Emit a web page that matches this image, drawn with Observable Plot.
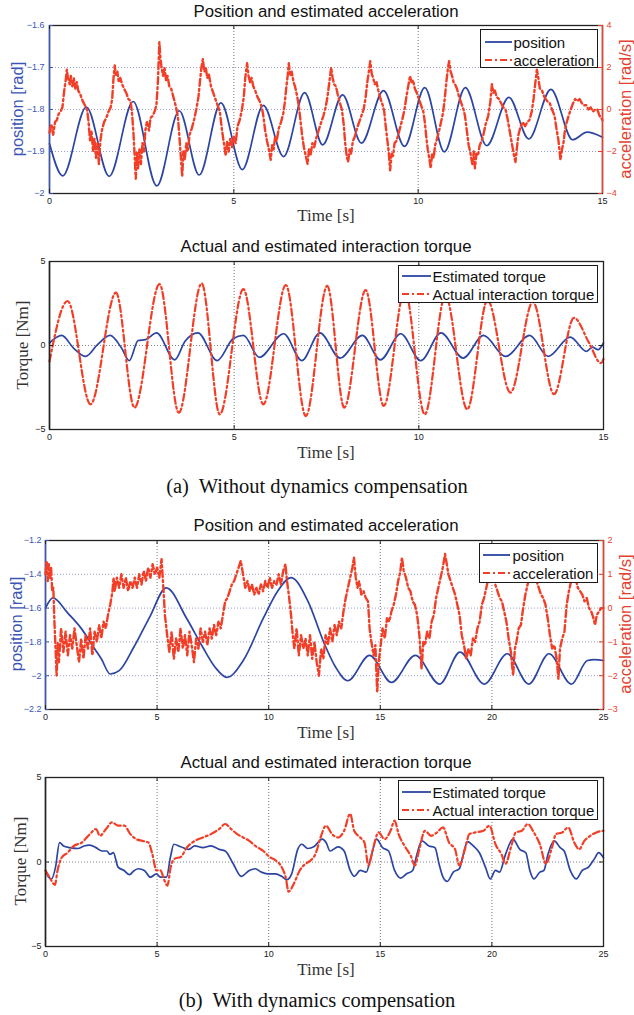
<!DOCTYPE html>
<html><head><meta charset="utf-8">
<script src="https://cdn.jsdelivr.net/npm/d3@7"></script>
<script src="https://cdn.jsdelivr.net/npm/@observablehq/plot@0.6"></script>
<style>
body{margin:0;background:#fff;}
#root{position:relative;width:634px;height:1015px;overflow:hidden;background:#fff;}
</style>
</head><body><div id="root"></div>
<script>
// ---------- DATA ----------
const titles = ["Position and estimated acceleration", "Actual and estimated interaction torque"];
const captions = ["(a)  Without dynamics compensation", "(b)  With dynamics compensation"];
const xLabel = "Time [s]";
const posLabel = "position [rad]", accLabel = "acceleration [rad/s]", torqueLabel = "Torque [Nm]";
const legendPA = ["position", "acceleration"];
const legendT = ["Estimated torque", "Actual interaction torque"];

const xTicks15 = [0, 5, 10, 15];
const xTicks25 = [0, 5, 10, 15, 20, 25];
const posTicks1 = [-2, -1.9, -1.8, -1.7, -1.6];
const accTicks1 = [-4, -2, 0, 2, 4];
const posTicks3 = [-2.2, -2, -1.8, -1.6, -1.4, -1.2];
const accTicks3 = [-3, -2, -1, 0, 1, 2];
const torqueTicks = [-5, 0, 5];

// panel (a) top: position [t, rad]
const p1Pos = [[0,-1.881],[0.36,-1.958],[1.0,-1.794],[1.62,-1.959],[2.27,-1.781],[2.91,-1.982],[3.52,-1.803],[4.06,-1.956],[4.65,-1.784],[5.23,-1.943],[5.8,-1.79],[6.35,-1.912],[6.92,-1.76],[7.41,-1.884],[7.95,-1.765],[8.46,-1.88],[9.06,-1.755],[9.63,-1.888],[10.18,-1.748],[10.71,-1.901],[11.28,-1.748],[11.86,-1.886],[12.46,-1.771],[13.0,-1.87],[13.6,-1.752],[14.19,-1.872],[14.58,-1.854],[15,-1.866]];
// panel (a) top: acceleration [t, rad/s^2]
const p1Acc = [[0,-1.1],[0.05,-0.7],[0.1,-1.2],[0.15,-0.6],[0.2,-0.5],[0.25,-0.2],[0.3,-0.1],[0.35,0.1],[0.4,0.9],[0.44,1.4],[0.47,1.9],[0.5,1.5],[0.55,1.2],[0.58,1.6],[0.62,1.1],[0.66,1.5],[0.7,1.0],[0.74,1.3],[0.78,0.9],[0.84,0.7],[0.9,0.4],[0.96,0.2],[1.02,0.0],[1.06,-0.6],[1.1,-1.5],[1.14,-1.0],[1.18,-2.0],[1.22,-1.4],[1.26,-2.3],[1.3,-1.6],[1.34,-2.6],[1.38,-1.5],[1.42,-1.0],[1.48,-0.6],[1.54,-0.4],[1.6,-0.1],[1.66,0.1],[1.7,0.5],[1.74,1.6],[1.77,2.1],[1.8,1.6],[1.84,1.8],[1.88,1.3],[1.92,1.5],[1.97,1.2],[2.02,1.0],[2.08,0.8],[2.14,0.5],[2.2,0.4],[2.24,-0.2],[2.28,-1.2],[2.31,-2.2],[2.34,-3.3],[2.37,-2.0],[2.4,-2.8],[2.44,-1.9],[2.48,-2.6],[2.52,-1.6],[2.56,-2.0],[2.6,-1.0],[2.64,-0.6],[2.7,-1.0],[2.74,-0.4],[2.8,-0.3],[2.85,-0.1],[2.9,0.2],[2.94,1.3],[2.98,3.2],[3.01,2.4],[3.04,2.0],[3.08,1.6],[3.12,2.0],[3.16,1.4],[3.2,1.6],[3.25,1.1],[3.3,1.0],[3.36,0.6],[3.42,0.2],[3.48,-0.3],[3.52,-1.2],[3.56,-2.2],[3.6,-3.2],[3.63,-2.0],[3.67,-2.4],[3.71,-1.6],[3.75,-2.0],[3.8,-1.2],[3.86,-0.9],[3.92,-0.5],[3.98,0.0],[4.04,0.6],[4.08,1.3],[4.12,2.0],[4.16,2.4],[4.2,1.8],[4.24,2.0],[4.28,1.5],[4.32,1.7],[4.38,1.1],[4.44,0.8],[4.5,0.5],[4.56,0.2],[4.62,-0.1],[4.68,-1.0],[4.73,-1.6],[4.78,-2.2],[4.82,-1.5],[4.86,-2.0],[4.9,-1.4],[4.95,-1.8],[5.0,-1.3],[5.05,-1.6],[5.1,-0.8],[5.16,-0.5],[5.22,0.0],[5.27,0.6],[5.31,1.5],[5.36,2.2],[5.4,1.6],[5.44,1.3],[5.48,1.5],[5.53,1.1],[5.58,0.9],[5.64,0.6],[5.7,0.4],[5.76,0.1],[5.8,-0.3],[5.85,-1.0],[5.9,-1.5],[5.95,-1.9],[6.0,-2.4],[6.04,-1.7],[6.08,-1.9],[6.12,-1.3],[6.16,-1.5],[6.22,-0.9],[6.28,-0.6],[6.34,-0.2],[6.38,0.3],[6.42,1.0],[6.46,1.6],[6.49,2.2],[6.53,1.6],[6.57,1.8],[6.62,1.3],[6.66,1.1],[6.71,0.7],[6.76,0.2],[6.8,-0.4],[6.85,-1.2],[6.9,-1.8],[6.95,-2.2],[7.0,-2.6],[7.04,-1.9],[7.08,-2.2],[7.13,-1.6],[7.18,-1.8],[7.23,-1.4],[7.3,-1.0],[7.37,-0.6],[7.43,-0.3],[7.49,0.1],[7.54,0.6],[7.59,1.3],[7.64,2.0],[7.68,1.5],[7.72,1.2],[7.77,1.1],[7.82,0.7],[7.88,0.3],[7.93,0.0],[7.98,-0.7],[8.02,-1.6],[8.06,-2.2],[8.1,-2.5],[8.14,-1.9],[8.18,-2.1],[8.23,-1.5],[8.28,-1.3],[8.34,-0.9],[8.4,-0.6],[8.46,-0.3],[8.52,0.0],[8.57,0.5],[8.62,1.3],[8.67,1.9],[8.7,2.3],[8.74,1.7],[8.78,1.5],[8.82,1.2],[8.87,1.3],[8.92,0.9],[8.98,0.5],[9.04,0.2],[9.08,-0.1],[9.12,-0.8],[9.16,-1.4],[9.2,-2.0],[9.24,-2.9],[9.28,-2.1],[9.32,-2.2],[9.36,-1.6],[9.41,-1.5],[9.46,-1.2],[9.52,-0.8],[9.58,-0.4],[9.63,0.0],[9.68,0.6],[9.73,1.1],[9.78,1.6],[9.82,1.3],[9.86,1.4],[9.91,1.0],[9.96,0.8],[10.02,0.5],[10.08,0.2],[10.14,-0.1],[10.18,-0.6],[10.22,-1.3],[10.26,-1.9],[10.3,-2.3],[10.34,-2.8],[10.38,-2.1],[10.42,-2.3],[10.46,-1.7],[10.51,-1.4],[10.57,-1.0],[10.62,-0.6],[10.67,-0.2],[10.72,0.5],[10.77,1.4],[10.81,2.0],[10.84,2.3],[10.88,1.8],[10.92,1.6],[10.96,1.3],[11.0,1.2],[11.05,1.0],[11.11,0.6],[11.17,0.3],[11.23,0.0],[11.27,-0.3],[11.32,-1.0],[11.37,-1.7],[11.42,-2.1],[11.47,-2.6],[11.51,-2.0],[11.54,-2.8],[11.58,-2.1],[11.62,-2.2],[11.67,-1.7],[11.72,-1.5],[11.77,-1.2],[11.83,-0.7],[11.9,-0.3],[11.96,0.4],[12.0,1.2],[12.04,0.8],[12.08,0.9],[12.13,0.6],[12.19,0.5],[12.25,0.3],[12.31,0.1],[12.37,0.0],[12.42,-0.4],[12.48,-1.0],[12.54,-1.6],[12.6,-2.2],[12.64,-2.5],[12.68,-1.8],[12.72,-1.2],[12.78,-0.8],[12.84,-0.6],[12.9,-0.8],[12.96,-0.6],[13.02,-0.5],[13.08,-0.1],[13.13,0.5],[13.18,1.3],[13.22,1.9],[13.26,1.5],[13.3,1.0],[13.36,0.9],[13.42,0.6],[13.5,0.4],[13.57,0.3],[13.63,0.0],[13.7,-0.3],[13.75,-0.9],[13.8,-1.4],[13.86,-2.4],[13.9,-1.9],[13.94,-1.6],[13.98,-1.0],[14.03,-0.6],[14.08,-0.3],[14.14,0.0],[14.2,0.3],[14.26,0.5],[14.32,0.4],[14.38,0.5],[14.44,0.3],[14.5,0.2],[14.56,0.2],[14.62,0.0],[14.68,0.1],[14.74,-0.1],[14.8,0.0],[14.86,0.0],[14.92,-0.3],[15,-0.5]];

// panel (a) bottom: torque [t, Nm]
const p2Est = [[0,0.15],[0.33,0.6],[0.65,-0.15],[0.98,-0.65],[1.3,0.05],[1.64,0.6],[1.95,-0.15],[2.16,-0.9],[2.4,0.3],[2.6,0.35],[2.9,0.75],[3.39,-0.85],[3.67,0.25],[4.02,0.75],[4.54,-0.9],[4.97,0.4],[5.25,0.6],[5.68,-0.7],[6.34,0.7],[6.83,-0.9],[7.32,0.75],[7.87,-0.75],[8.47,0.6],[8.96,-0.85],[9.51,0.7],[10.05,-0.9],[10.6,0.75],[11.2,-0.75],[11.75,0.6],[12.35,-0.65],[13.0,0.6],[13.5,-0.65],[14.1,0.5],[14.54,-0.35],[14.7,-0.1],[14.85,-0.25],[15,0.15]];
const p2Act = [[0,-0.95],[0.49,2.65],[1.11,-3.5],[1.8,3.15],[2.3,-3.7],[2.98,3.65],[3.5,-4.0],[4.12,3.7],[4.61,-4.1],[5.25,3.35],[5.79,-3.5],[6.4,3.6],[6.94,-4.2],[7.52,3.55],[7.98,-3.7],[8.56,3.3],[9.05,-3.6],[9.62,3.3],[10.16,-4.1],[10.72,3.0],[11.31,-3.8],[11.86,2.7],[12.48,-2.8],[13.09,2.6],[13.66,-2.9],[14.2,1.65],[14.6,0.2],[14.93,-1.05],[15,-0.8]];

// panel (b) top: position
const p3Pos = [[0,-1.6],[0.33,-1.54],[1.0,-1.63],[1.6,-1.72],[2.2,-1.84],[2.5,-1.9],[2.9,-1.99],[3.3,-1.97],[3.96,-1.83],[4.68,-1.65],[5.41,-1.48],[6.32,-1.66],[7.04,-1.83],[7.6,-1.95],[8.13,-2.01],[8.86,-1.91],[9.76,-1.66],[10.4,-1.5],[11.0,-1.42],[11.76,-1.56],[12.49,-1.81],[13.0,-1.95],[13.54,-2.03],[14.52,-1.88],[15.5,-2.04],[16.57,-1.88],[17.66,-2.05],[18.57,-1.86],[19.66,-2.05],[20.69,-1.87],[21.65,-2.05],[22.56,-1.87],[23.56,-2.05],[24.28,-1.91],[24.6,-1.905],[25,-1.91]];
// panel (b) top: acceleration
const p3Acc = [[0,1.0],[0.05,1.4],[0.1,0.8],[0.15,1.3],[0.2,0.9],[0.25,1.2],[0.3,0.5],[0.35,0.6],[0.4,-0.4],[0.45,-1.2],[0.5,-2.0],[0.55,-1.0],[0.6,-1.6],[0.7,-0.6],[0.8,-1.3],[0.9,-0.7],[1.0,-1.4],[1.1,-0.8],[1.2,-1.2],[1.3,-0.6],[1.4,-1.1],[1.5,-1.6],[1.6,-0.9],[1.7,-1.5],[1.8,-0.8],[1.9,-1.2],[2.0,-0.6],[2.1,-1.4],[2.2,-0.7],[2.3,-1.0],[2.4,-0.5],[2.5,-0.9],[2.6,-0.4],[2.7,-0.6],[2.8,-0.2],[2.9,0.1],[3.0,0.5],[3.05,0.9],[3.1,0.5],[3.2,0.9],[3.3,0.6],[3.4,1.0],[3.5,0.6],[3.6,0.9],[3.7,0.5],[3.8,0.8],[3.9,0.6],[4.0,0.9],[4.1,0.6],[4.2,1.0],[4.3,0.7],[4.4,1.1],[4.5,0.8],[4.6,1.2],[4.7,0.9],[4.8,1.3],[4.9,1.0],[5.0,1.2],[5.1,0.9],[5.2,1.45],[5.28,0.6],[5.35,-0.2],[5.45,-0.8],[5.55,-1.3],[5.65,-0.7],[5.75,-1.5],[5.85,-0.9],[5.95,-1.3],[6.05,-0.6],[6.15,-1.2],[6.25,-0.8],[6.35,-1.4],[6.45,-0.7],[6.55,-1.1],[6.65,-1.6],[6.75,-0.9],[6.85,-1.2],[6.95,-0.6],[7.05,-1.0],[7.15,-0.7],[7.25,-1.1],[7.35,-0.6],[7.45,-0.9],[7.55,-0.5],[7.65,-0.8],[7.75,-0.4],[7.85,-0.6],[7.95,-0.2],[8.05,0.2],[8.15,0.3],[8.25,0.5],[8.35,0.7],[8.45,0.8],[8.55,1.0],[8.65,1.2],[8.75,1.4],[8.85,1.0],[8.95,0.6],[9.05,0.8],[9.15,0.5],[9.25,0.7],[9.35,0.4],[9.45,0.6],[9.55,0.4],[9.65,0.7],[9.75,0.5],[9.85,0.8],[9.95,0.6],[10.05,0.9],[10.15,0.6],[10.25,0.8],[10.35,0.7],[10.45,1.0],[10.55,0.7],[10.65,1.1],[10.75,1.3],[10.82,0.8],[10.9,0.4],[11.0,-0.2],[11.08,-0.8],[11.15,-1.2],[11.25,-0.6],[11.35,-1.4],[11.45,-0.8],[11.55,-1.2],[11.65,-0.9],[11.75,-1.4],[11.85,-0.8],[11.95,-1.5],[12.05,-1.0],[12.15,-1.6],[12.25,-2.0],[12.35,-1.2],[12.45,-1.5],[12.55,-0.8],[12.65,-1.1],[12.75,-0.6],[12.85,-1.0],[12.95,-0.5],[13.05,-0.8],[13.15,-0.4],[13.25,-0.6],[13.35,-0.1],[13.45,0.3],[13.55,0.6],[13.65,0.9],[13.75,1.2],[13.82,1.5],[13.9,0.9],[13.98,0.6],[14.05,0.8],[14.15,0.4],[14.25,0.5],[14.35,0.3],[14.45,0.2],[14.52,-0.6],[14.6,-1.0],[14.7,-1.4],[14.78,-1.1],[14.86,-2.5],[14.93,-1.6],[15.0,-1.2],[15.1,-0.6],[15.2,-0.9],[15.3,-0.3],[15.4,-0.4],[15.5,-0.1],[15.6,0.1],[15.7,0.4],[15.8,0.8],[15.9,1.1],[15.97,1.5],[16.05,1.1],[16.15,0.9],[16.25,0.6],[16.35,0.5],[16.45,0.2],[16.55,0.1],[16.65,-0.2],[16.75,-0.8],[16.85,-1.8],[16.93,-1.0],[17.0,-1.1],[17.1,-0.7],[17.2,-0.9],[17.3,-0.4],[17.4,-0.2],[17.5,0.3],[17.6,0.6],[17.7,0.9],[17.8,1.2],[17.9,1.6],[17.98,1.3],[18.05,1.0],[18.15,0.8],[18.25,0.6],[18.35,0.4],[18.45,0.1],[18.55,-0.2],[18.65,-0.8],[18.75,-1.1],[18.85,-1.5],[18.95,-1.2],[19.05,-1.4],[19.15,-0.9],[19.25,-1.0],[19.35,-0.6],[19.45,-0.4],[19.55,0.1],[19.65,0.3],[19.75,0.6],[19.85,0.9],[19.95,1.2],[20.05,1.0],[20.15,0.7],[20.25,0.5],[20.35,0.3],[20.45,0.2],[20.55,-0.1],[20.65,-0.4],[20.75,-0.9],[20.85,-1.3],[20.95,-2.0],[21.03,-1.2],[21.1,-1.0],[21.2,-0.6],[21.3,-0.5],[21.4,0.0],[21.5,0.4],[21.6,0.7],[21.7,1.0],[21.8,1.3],[21.9,1.1],[22.0,0.8],[22.1,0.6],[22.2,0.4],[22.3,0.3],[22.4,0.1],[22.5,-0.3],[22.6,-0.8],[22.7,-1.2],[22.8,-1.1],[22.9,-1.5],[22.98,-2.1],[23.05,-1.2],[23.15,-0.9],[23.25,-0.7],[23.35,0.1],[23.45,0.5],[23.55,0.8],[23.65,1.2],[23.75,0.9],[23.85,0.6],[23.95,0.5],[24.05,0.4],[24.15,0.2],[24.25,0.3],[24.35,0.0],[24.45,-0.1],[24.55,-0.3],[24.62,-0.5],[24.7,-0.2],[24.8,-0.1],[24.9,0.0],[25,0.0]];

// panel (b) bottom: torque
const p4Est = [[0,-0.5],[0.14,-0.9],[0.27,-1.0],[0.45,-0.3],[0.63,1.15],[0.81,0.95],[1.08,0.85],[1.45,0.8],[1.72,0.95],[1.99,1.0],[2.26,0.85],[2.53,0.65],[2.75,0.65],[2.89,0.45],[3.04,0.55],[3.25,-0.3],[3.52,-0.5],[3.76,-0.75],[3.98,-0.5],[4.16,-0.4],[4.43,-0.5],[4.7,-0.9],[4.97,-0.7],[5.15,-0.9],[5.42,-0.9],[5.6,0.3],[5.75,1.05],[6.06,0.9],[6.42,0.75],[6.69,0.95],[7.05,0.85],[7.41,0.95],[7.78,0.75],[8.05,0.65],[8.41,-0.1],[8.77,-0.85],[9.13,-0.5],[9.4,-0.4],[9.67,-0.6],[9.95,-0.7],[10.31,-0.7],[10.58,-0.85],[10.81,-1.05],[11.03,-0.7],[11.3,0.75],[11.48,1.05],[11.75,0.8],[12.02,0.9],[12.4,1.35],[12.57,1.15],[12.75,0.65],[13.11,0.9],[13.38,0.65],[13.65,-0.5],[13.83,-0.85],[14.1,-0.5],[14.37,-0.6],[14.55,0.1],[14.83,1.35],[15.1,0.85],[15.37,0.65],[15.64,-0.5],[15.91,-0.95],[16.18,-0.7],[16.45,-0.5],[16.64,0.45],[16.86,1.25],[17.18,0.95],[17.45,0.85],[17.63,-0.1],[17.81,-0.9],[18.0,-1.15],[18.27,-0.6],[18.54,-0.4],[18.72,0.45],[18.9,1.2],[19.17,0.95],[19.44,0.55],[19.71,-0.3],[19.93,-1.0],[20.16,-0.5],[20.34,-0.6],[20.61,0.45],[20.94,1.35],[21.25,0.75],[21.52,0.55],[21.7,-0.5],[21.88,-1.0],[22.15,-0.6],[22.33,-0.5],[22.51,0.45],[22.79,1.25],[23.06,0.85],[23.24,0.65],[23.51,-0.5],[23.78,-1.0],[24.05,-0.5],[24.33,-0.3],[24.6,0.2],[24.78,0.55],[25,0.25]];
const p4Act = [[0,-0.5],[0.18,-0.9],[0.42,-1.35],[0.54,-0.5],[0.72,0.25],[0.99,0.55],[1.27,0.95],[1.63,1.15],[1.99,1.65],[2.26,1.95],[2.44,1.55],[2.71,1.95],[2.98,2.35],[3.25,2.15],[3.53,2.15],[3.8,1.65],[4.07,1.35],[4.34,1.25],[4.61,1.15],[4.79,0.45],[4.97,-0.5],[5.15,-0.5],[5.33,-1.1],[5.46,-1.4],[5.61,-0.3],[5.79,0.2],[6.06,0.3],[6.33,0.85],[6.69,1.25],[7.05,1.45],[7.41,1.65],[7.78,1.95],[8.05,2.25],[8.32,1.95],[8.59,1.65],[8.86,1.45],[9.13,1.25],[9.4,0.95],[9.76,0.65],[10.04,0.3],[10.31,0.1],[10.58,-0.3],[10.76,-0.9],[10.89,-1.75],[11.12,-1.3],[11.39,-0.5],[11.66,-0.1],[11.84,0.05],[12.12,0.55],[12.3,1.35],[12.57,2.15],[12.84,1.65],[13.11,1.45],[13.38,1.85],[13.65,2.85],[13.83,1.85],[14.1,1.45],[14.29,1.15],[14.47,-0.2],[14.65,0.65],[14.92,1.75],[15.19,1.35],[15.46,1.85],[15.64,2.45],[15.82,1.65],[16.09,0.95],[16.37,0.35],[16.55,-0.2],[16.73,0.65],[17.0,1.85],[17.27,1.55],[17.54,1.75],[17.81,2.05],[18.08,1.15],[18.35,0.75],[18.54,-0.2],[18.81,0.85],[18.99,1.65],[19.26,1.75],[19.62,1.85],[19.89,2.15],[20.16,1.05],[20.43,0.45],[20.61,-0.1],[20.89,1.05],[21.07,1.75],[21.34,1.85],[21.61,2.25],[21.88,1.75],[22.15,1.05],[22.42,-0.1],[22.69,0.85],[22.87,1.65],[23.15,1.75],[23.42,2.05],[23.69,1.15],[23.91,0.75],[24.14,1.25],[24.41,1.55],[24.68,1.75],[25,1.85]];

// ---------- DRAWING ----------
const W = 634;
const BLUE = "#2c45a3", RED = "#f23e27", BLUE_AX = "#3c55b5", RED_AX = "#e4412f";
const DASHDOT = "7,3,2,3";
const root = document.getElementById("root");
const SANS = "'Liberation Sans', Arial, Helvetica, sans-serif";
const SERIF = "'Liberation Serif', 'Times New Roman', serif";
const fmt = d3.format("~g");

function addText(txt, x, y, css, rotate) {
  const d = document.createElement("div");
  d.textContent = txt;
  d.style.cssText = `position:absolute;left:${x}px;top:${y}px;white-space:nowrap;line-height:1;transform:translate(-50%,-50%)${rotate ? ` rotate(${rotate}deg)` : ""};${css}`;
  root.appendChild(d);
}

const MT = 10, MB = 22;
function mount(g, yDomain, marks, transparent) {
  const svg = Plot.plot({
    width: W, height: g.bottom - g.top + MT + MB,
    marginLeft: g.left, marginRight: W - g.right, marginTop: MT, marginBottom: MB,
    x: {domain: g.xDomain, axis: null}, y: {domain: yDomain, axis: null},
    style: {background: transparent ? "transparent" : "white", fontFamily: SANS, overflow: "visible"},
    marks
  });
  const d = document.createElement("div");
  d.style.cssText = `position:absolute;left:0;top:${g.top - MT}px;`;
  d.appendChild(svg);
  root.appendChild(d);
}

const xy = {x: d => d[0], y: d => d[1]};

function drawPanel(g) {
  const ph = g.bottom - g.top, pw = g.right - g.left;
  const base = [
    Plot.ruleX(g.xGrid, {stroke: "#666", strokeWidth: 0.9, strokeDasharray: "1,2"}),
    Plot.ruleY(g.yGrid, {stroke: g.gridColor, strokeWidth: 0.9, strokeDasharray: "1,2"}),
    ...g.lines,
    Plot.frame({stroke: "#222", strokeWidth: 1.3}),
    Plot.ruleX([g.xDomain[0]], {stroke: g.leftColor, strokeWidth: 1.5}),
    Plot.ruleX(g.xTicks, {insetTop: ph - 4, stroke: "#222"}),
    Plot.ruleX(g.xTicks, {insetBottom: ph - 4, stroke: "#222"}),
    Plot.ruleY(g.yTicks, {insetRight: pw - 4, stroke: g.leftColor}),
    g.overlay ? null : Plot.ruleY(g.yTicks, {insetLeft: pw - 4, stroke: "#222"}),
    Plot.axisX({ticks: g.xTicks, tickSize: 0, tickPadding: 4, fontSize: 9, color: "#222", label: null, tickFormat: fmt}),
    Plot.axisY({ticks: g.yTicks, tickSize: 0, tickPadding: g.yPad, fontSize: 9, color: g.leftColor, label: null, tickFormat: fmt})
  ];
  mount(g, g.yDomain, base, false);
  if (g.overlay) {
    const o = g.overlay;
    mount(g, o.yDomain, [
      ...o.lines,
      Plot.ruleX([g.xDomain[1]], {stroke: RED_AX, strokeWidth: 1.5}),
      Plot.ruleY(o.yTicks, {insetLeft: pw - 4, stroke: RED_AX}),
      Plot.axisY({anchor: "right", ticks: o.yTicks, tickSize: 0, tickPadding: 4, fontSize: 9, color: RED_AX, label: null, tickFormat: fmt})
    ], true);
  }
}

function legend(x, y, w, h, labels, lx0, lx1, tx, rows) {
  const d = document.createElement("div");
  d.style.cssText = `position:absolute;left:${x}px;top:${y}px;width:${w}px;height:${h}px;background:#fff;border:1.5px solid #1a1a1a;box-sizing:border-box;font-family:${SANS};font-size:15px;color:#111;`;
  const styles = [{c: BLUE, dash: "none", sw: 1.8}, {c: RED, dash: DASHDOT, sw: 2.2}];
  let svg = `<svg width="${w}" height="${h}" style="position:absolute;left:-1.5px;top:-1.5px">`;
  labels.forEach((lab, i) => {
    svg += `<line x1="${lx0}" x2="${lx1}" y1="${rows[i]}" y2="${rows[i]}" stroke="${styles[i].c}" stroke-width="${styles[i].sw}" stroke-dasharray="${styles[i].dash}"/>`;
  });
  svg += `</svg>`;
  d.innerHTML = svg + labels.map((lab, i) => `<div style="position:absolute;left:${tx - 1.5}px;top:${rows[i] - 1.5}px;transform:translateY(-50%);white-space:nowrap;line-height:1">${lab}</div>`).join("");
  root.appendChild(d);
}

const accLine = (data) => Plot.line(data, {...xy, stroke: RED, strokeWidth: 2.4, strokeDasharray: DASHDOT});
const posLine = (data) => Plot.line(data, {...xy, stroke: BLUE, strokeWidth: 1.7, curve: "monotone-x"});
const actLine = (data) => Plot.line(data, {...xy, stroke: RED, strokeWidth: 2.2, strokeDasharray: DASHDOT, curve: "monotone-x"});

// Panel 1
drawPanel({top: 25, bottom: 193, left: 49, right: 602, xDomain: [0, 15], xTicks: xTicks15, xGrid: [5, 10],
  yDomain: [-2, -1.6], yTicks: posTicks1, yGrid: [-1.9, -1.8, -1.7], gridColor: "#8a94c8", leftColor: BLUE_AX, yPad: 5,
  lines: [posLine(p1Pos)],
  overlay: {yDomain: [-4, 4], yTicks: accTicks1, lines: [accLine(p1Acc)]}});
// Panel 2
drawPanel({top: 261, bottom: 429, left: 49, right: 603, xDomain: [0, 15], xTicks: xTicks15, xGrid: [5, 10],
  yDomain: [-5, 5], yTicks: torqueTicks, yGrid: [0], gridColor: "#777", leftColor: "#222", yPad: 4,
  lines: [posLine(p2Est), actLine(p2Act)]});
// Panel 3
drawPanel({top: 540, bottom: 709, left: 45, right: 603, xDomain: [0, 25], xTicks: xTicks25, xGrid: [5, 10, 15, 20],
  yDomain: [-2.2, -1.2], yTicks: posTicks3, yGrid: [-2, -1.8, -1.6, -1.4], gridColor: "#8a94c8", leftColor: BLUE_AX, yPad: 4,
  lines: [posLine(p3Pos)],
  overlay: {yDomain: [-3, 2], yTicks: accTicks3, lines: [accLine(p3Acc)]}});
// Panel 4
drawPanel({top: 777, bottom: 946, left: 45, right: 603, xDomain: [0, 25], xTicks: xTicks25, xGrid: [5, 10, 15, 20],
  yDomain: [-5, 5], yTicks: torqueTicks, yGrid: [0], gridColor: "#777", leftColor: "#222", yPad: 4,
  lines: [posLine(p4Est), actLine(p4Act)]});

// Legends
legend(480, 29, 118, 39, legendPA, 5, 32, 34, [13, 31]);
legend(398, 265, 200, 38, legendT, 4, 33, 35, [11, 29]);
legend(479, 543, 119, 40, legendPA, 4, 31, 34, [12, 30]);
legend(398, 780, 200, 40, legendT, 4, 33, 35, [12, 30]);

// Titles, labels, captions
const titleCss = `font-family:${SANS};font-size:16.8px;color:#111;`;
addText(titles[0], 326, 12, titleCss);
addText(titles[1], 326, 247, titleCss);
addText(titles[0], 326, 526, titleCss);
addText(titles[1], 326, 763, titleCss);

const timeCss = `font-family:${SERIF};font-size:17px;color:#333;`;
addText(xLabel, 326, 215, timeCss);
addText(xLabel, 326, 452, timeCss);
addText(xLabel, 326, 732, timeCss);
addText(xLabel, 326, 969, timeCss);

const posCss = `font-family:${SANS};font-size:16.5px;color:${BLUE_AX};`;
const accCss = `font-family:${SANS};font-size:16.5px;color:${RED_AX};`;
const torCss = `font-family:${SERIF};font-size:17px;color:#333;`;
addText(posLabel, 17, 109, posCss, -90);
addText(accLabel, 625, 109, accCss, -90);
addText(torqueLabel, 22, 345, torCss, -90);
addText(posLabel, 16, 624, posCss, -90);
addText(accLabel, 625, 624, accCss, -90);
addText(torqueLabel, 20, 861, torCss, -90);

const capCss = `font-family:${SERIF};font-size:20.5px;color:#111;white-space:pre;`;
addText(captions[0], 317, 486, capCss);
addText(captions[1], 317, 1000, capCss);
</script></body></html>
